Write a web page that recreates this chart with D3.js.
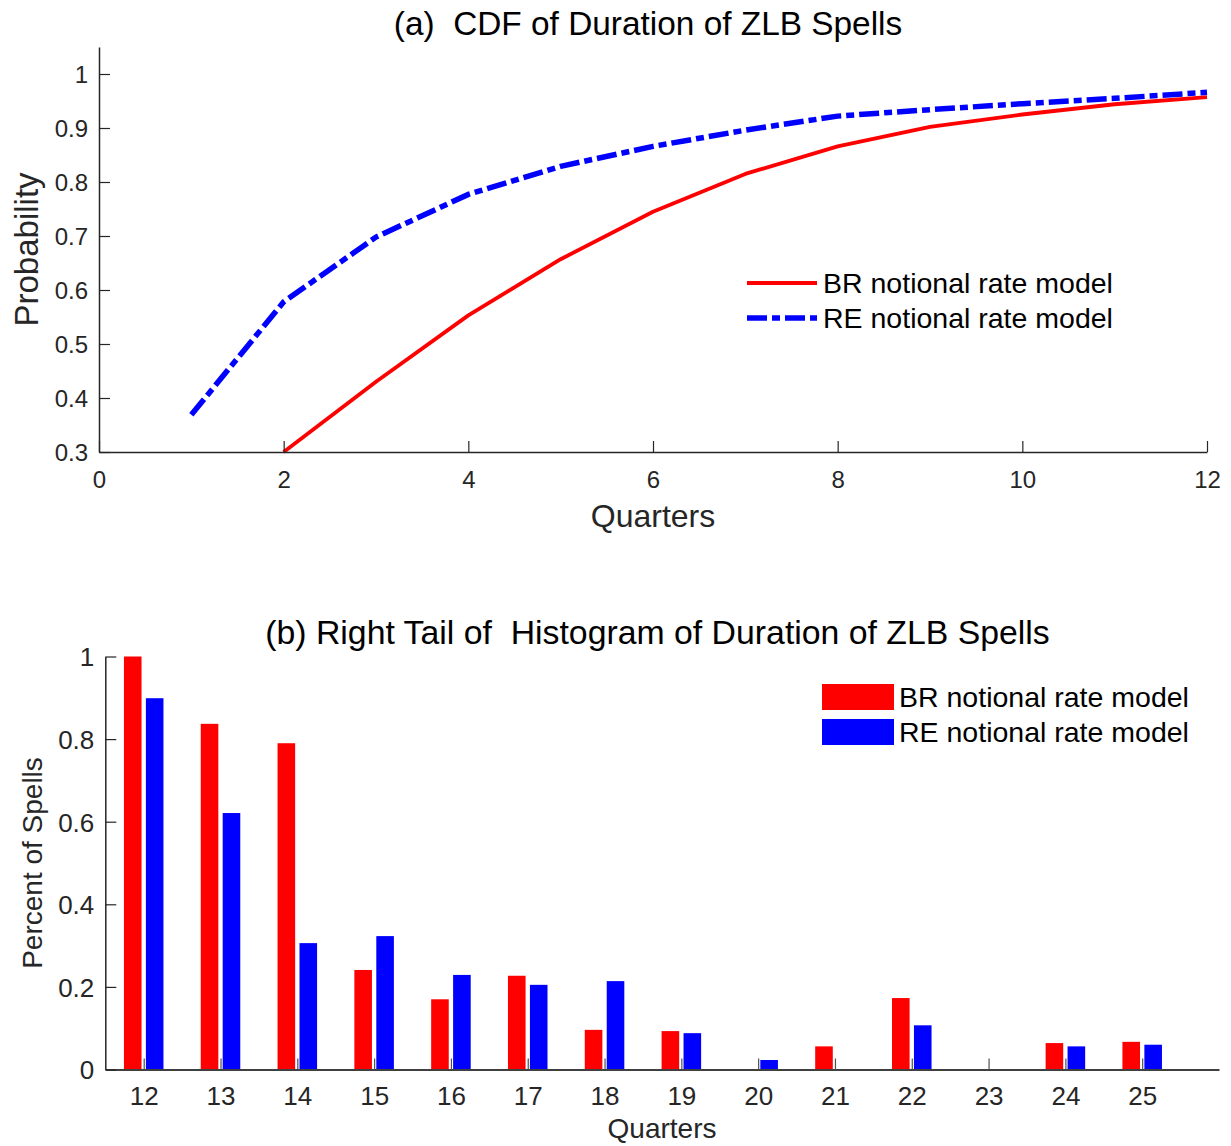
<!DOCTYPE html>
<html>
<head>
<meta charset="utf-8">
<script src="https://cdn.jsdelivr.net/npm/d3@7"></script>
<style>
  html, body { margin: 0; padding: 0; background: #fff; }
  svg { display: block; font-family: "Liberation Sans", Arial, Helvetica, sans-serif; }
</style>
</head>
<body>
<svg id="chart" width="1231" height="1146"></svg>
<script>
// ---------- Data: panel (a) CDF ----------
const cdfQuarters = [1, 2, 3, 4, 5, 6, 7, 8, 9, 10, 11, 12];
const brCdf = [null, 0.300, 0.430, 0.553, 0.657, 0.745, 0.815, 0.866, 0.902, 0.925, 0.944, 0.957];
const reCdf = [0.369, 0.578, 0.698, 0.777, 0.829, 0.866, 0.896, 0.922, 0.934, 0.945, 0.955, 0.966];
const cdfXTicks = [0, 2, 4, 6, 8, 10, 12];
const cdfYTicks = [0.3, 0.4, 0.5, 0.6, 0.7, 0.8, 0.9, 1];

// ---------- Data: panel (b) histogram right tail ----------
const histQuarters = [12, 13, 14, 15, 16, 17, 18, 19, 20, 21, 22, 23, 24, 25];
const brHist = [1.000, 0.837, 0.790, 0.241, 0.170, 0.227, 0.096, 0.093, 0, 0.056, 0.173, 0, 0.064, 0.067];
const reHist = [0.899, 0.621, 0.306, 0.323, 0.229, 0.205, 0.214, 0.088, 0.023, 0, 0.107, 0, 0.056, 0.060];
const histYTicks = [0, 0.2, 0.4, 0.6, 0.8, 1];

const seriesNames = ["BR notional rate model", "RE notional rate model"];
const seriesColors = ["#ff0000", "#0000ff"];

const AX = "#262626";
const svg = d3.select("#chart");

// ================= Panel (a) =================
const xA = d3.scaleLinear().domain([0, 12]).range([99, 1207]);
const yA = d3.scaleLinear().domain([0.3, 1.05]).range([452, 47]);

const gA = svg.append("g");

const lineA = d3.line()
  .defined(d => d.y != null)
  .x(d => xA(d.x))
  .y(d => yA(d.y));

const brPts = cdfQuarters.map((q, i) => ({x: q, y: brCdf[i]}));
const rePts = cdfQuarters.map((q, i) => ({x: q, y: reCdf[i]}));

gA.append("path").datum(brPts)
  .attr("d", lineA).attr("fill", "none")
  .attr("stroke", seriesColors[0]).attr("stroke-width", 3.8)
  .attr("stroke-linejoin", "round");

gA.append("path").datum(rePts)
  .attr("d", lineA).attr("fill", "none")
  .attr("stroke", seriesColors[1]).attr("stroke-width", 5.5)
  .attr("stroke-dasharray", "20,5,8,5");

const axA_x = gA.append("g").attr("transform", `translate(0,${yA(0.3)})`)
  .call(d3.axisBottom(xA).tickValues(cdfXTicks).tickFormat(d3.format("d"))
    .tickSizeInner(-11).tickSizeOuter(0));
axA_x.select(".domain").attr("stroke", AX).attr("stroke-width", 1.5);
axA_x.selectAll(".tick line").attr("stroke", AX).attr("stroke-width", 1.2);
axA_x.selectAll("text").attr("y", 36).attr("dy", 0)
  .attr("font-size", 24).attr("fill", AX).attr("font-family", null);

const axA_y = gA.append("g").attr("transform", `translate(${xA(0)},0)`)
  .call(d3.axisLeft(yA).tickValues(cdfYTicks).tickFormat(d => d === 1 ? "1" : d3.format(".1f")(d))
    .tickSizeInner(-11).tickSizeOuter(0));
axA_y.select(".domain").attr("stroke", AX).attr("stroke-width", 1.5);
axA_y.selectAll(".tick line").attr("stroke", AX).attr("stroke-width", 1.2);
axA_y.selectAll("text").attr("x", -11).attr("dy", "0.36em")
  .attr("font-size", 24).attr("fill", AX).attr("font-family", null);

gA.append("text").attr("x", 648).attr("y", 35)
  .attr("text-anchor", "middle").attr("font-size", 33.4).attr("fill", "#000")
  .attr("xml:space", "preserve").style("white-space", "pre")
  .text("(a)  CDF of Duration of ZLB Spells");
gA.append("text").attr("x", (xA(0) + xA(12)) / 2).attr("y", 527)
  .attr("text-anchor", "middle").attr("font-size", 32).attr("fill", AX)
  .text("Quarters");
gA.append("text").attr("transform", `translate(38,${(yA(0.3) + yA(1.05)) / 2}) rotate(-90)`)
  .attr("text-anchor", "middle").attr("font-size", 33).attr("fill", AX)
  .text("Probability");

const legA = gA.append("g");
[0, 1].forEach(i => {
  const cy = 283 + i * 35;
  legA.append("line").attr("x1", 747).attr("x2", 817).attr("y1", cy).attr("y2", cy)
    .attr("stroke", seriesColors[i]).attr("stroke-width", i === 0 ? 3.8 : 5.5)
    .attr("stroke-dasharray", i === 0 ? null : "20,5,8,5");
  legA.append("text").attr("x", 823).attr("y", cy + 10)
    .attr("font-size", 28.5).attr("fill", "#000").text(seriesNames[i]);
});

// ================= Panel (b) =================
const xB = d3.scaleLinear().domain([11.5, 26]).range([105.3, 1219]);
const yB = d3.scaleLinear().domain([0, 1]).range([1069.5, 656.5]);
const gB = svg.append("g");

const slot = 0.2857, barW = 0.229;
const offsets = [-slot / 2, slot / 2];
[brHist, reHist].forEach((vals, s) => {
  gB.append("g").selectAll("rect").data(histQuarters.map((q, i) => ({q, v: vals[i]})))
    .join("rect")
    .attr("x", d => xB(d.q + offsets[s] - barW / 2))
    .attr("width", d => xB(d.q + offsets[s] + barW / 2) - xB(d.q + offsets[s] - barW / 2))
    .attr("y", d => yB(d.v))
    .attr("height", d => yB(0) - yB(d.v))
    .attr("fill", seriesColors[s]);
});

const axB_x = gB.append("g").attr("transform", `translate(0,${yB(0)})`)
  .call(d3.axisBottom(xB).tickValues(histQuarters).tickFormat(d3.format("d"))
    .tickSizeInner(-11).tickSizeOuter(0));
axB_x.select(".domain").attr("stroke", "#404040").attr("stroke-width", 2.2);
axB_x.selectAll(".tick line").attr("stroke", "#505050").attr("stroke-width", 1.2);
axB_x.selectAll("text").attr("y", 35.5).attr("dy", 0)
  .attr("font-size", 26).attr("fill", AX).attr("font-family", null);

const axB_y = gB.append("g").attr("transform", `translate(${xB(11.5)},0)`)
  .call(d3.axisLeft(yB).tickValues(histYTicks).tickFormat(d => (d === 0 || d === 1) ? d3.format("d")(d) : d3.format(".1f")(d))
    .tickSizeInner(-11).tickSizeOuter(0));
axB_y.select(".domain").attr("stroke", AX).attr("stroke-width", 1.5);
axB_y.selectAll(".tick line").attr("stroke", AX).attr("stroke-width", 1.2);
axB_y.selectAll("text").attr("x", -11).attr("dy", "0.36em")
  .attr("font-size", 26).attr("fill", AX).attr("font-family", null);

gB.append("text").attr("x", 657.5).attr("y", 643.5)
  .attr("text-anchor", "middle").attr("font-size", 33.8).attr("fill", "#000")
  .attr("xml:space", "preserve").style("white-space", "pre")
  .text("(b) Right Tail of  Histogram of Duration of ZLB Spells");
gB.append("text").attr("x", 662).attr("y", 1138)
  .attr("text-anchor", "middle").attr("font-size", 28).attr("fill", AX)
  .text("Quarters");
gB.append("text").attr("transform", `translate(42,${(yB(0) + yB(1)) / 2}) rotate(-90)`)
  .attr("text-anchor", "middle").attr("font-size", 28).attr("fill", AX)
  .text("Percent of Spells");

const legB = gB.append("g");
[0, 1].forEach(i => {
  const top = 684 + i * 35;
  legB.append("rect").attr("x", 822).attr("y", top).attr("width", 72).attr("height", 26)
    .attr("fill", seriesColors[i]);
  legB.append("text").attr("x", 899).attr("y", top + 22.7)
    .attr("font-size", 28.5).attr("fill", "#000").text(seriesNames[i]);
});
</script>
</body>
</html>
